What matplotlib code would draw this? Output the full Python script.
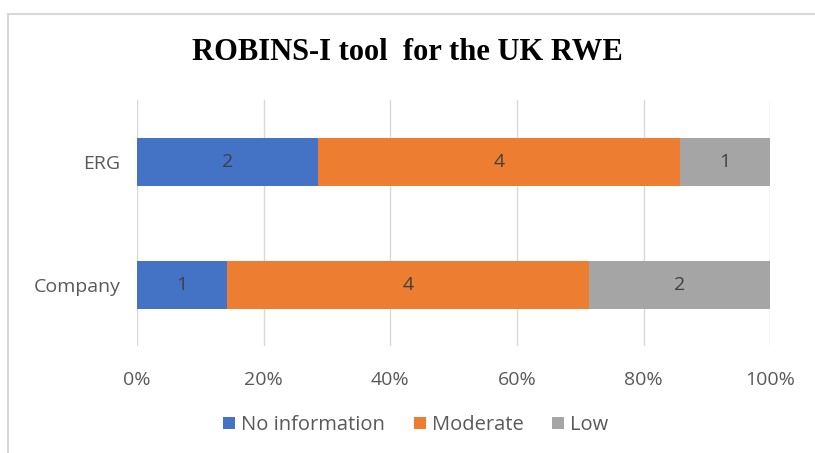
import matplotlib.pyplot as plt
import matplotlib.patches as mpatches
import numpy as np

categories = ['Company', 'ERG']
series = ['No information', 'Moderate', 'Low']
no_info = [1, 2]
moderate = [4, 4]
low = [2, 1]
colors = ['#4472C4', '#ED7D31', '#A5A5A5']
ticks = [0, 20, 40, 60, 80, 100]

plt.rcParams['font.family'] = ['Open Sans', 'DejaVu Sans']

fig = plt.figure(figsize=(8.15, 4.53), dpi=100)
ax = fig.add_axes([0.168, 0.236, 0.777, 0.543])

# рамка вокруг диаграммы
fig.patches.append(mpatches.Rectangle((8 / 815, -0.05), 1.2, 1 - 14 / 453 + 0.05,
                                      transform=fig.transFigure, fill=False,
                                      edgecolor='#D9D9D9', linewidth=1.5))

data = np.array([no_info, moderate, low], dtype=float)
totals = data.sum(axis=0)
pct = data / totals * 100
y = np.arange(len(categories))
left = np.zeros(len(categories))
for i, name in enumerate(series):
    bars = ax.barh(y, pct[i], left=left, height=0.39, color=colors[i], label=name, zorder=3)
    for j, b in enumerate(bars):
        ax.text(left[j] + pct[i][j] / 2, y[j], str(int(data[i][j])), ha='center', va='center',
                fontsize=14, color='#404040', zorder=4)
    left += pct[i]

ax.set_xlim(0, 100)
ax.set_ylim(-0.5, 1.5)
ax.set_xticks(ticks)
ax.set_xticklabels([f'{t}%' for t in ticks], fontsize=14, color='#595959')
ax.set_yticks(y)
ax.set_yticklabels(categories, fontsize=14, color='#595959')
ax.tick_params(axis='x', length=0, pad=18)
ax.tick_params(axis='y', length=0, pad=12)
ax.grid(axis='x', color='#D9D9D9', linewidth=1, zorder=0)
for s in ax.spines.values():
    s.set_visible(False)

fig.text(0.5, 1 - 52 / 453, 'ROBINS-I tool  for the UK RWE', ha='center', va='center',
         fontsize=22, fontweight='bold', family='Liberation Serif', color='black')

fig.legend(loc='center', bbox_to_anchor=(0.51, 1 - 425 / 453), ncol=3, frameon=False,
           fontsize=14.5, handlelength=0.6, handleheight=0.6, handletextpad=0.3,
           columnspacing=1.4, labelcolor='#595959')

fig.savefig('out.png', dpi=100)
